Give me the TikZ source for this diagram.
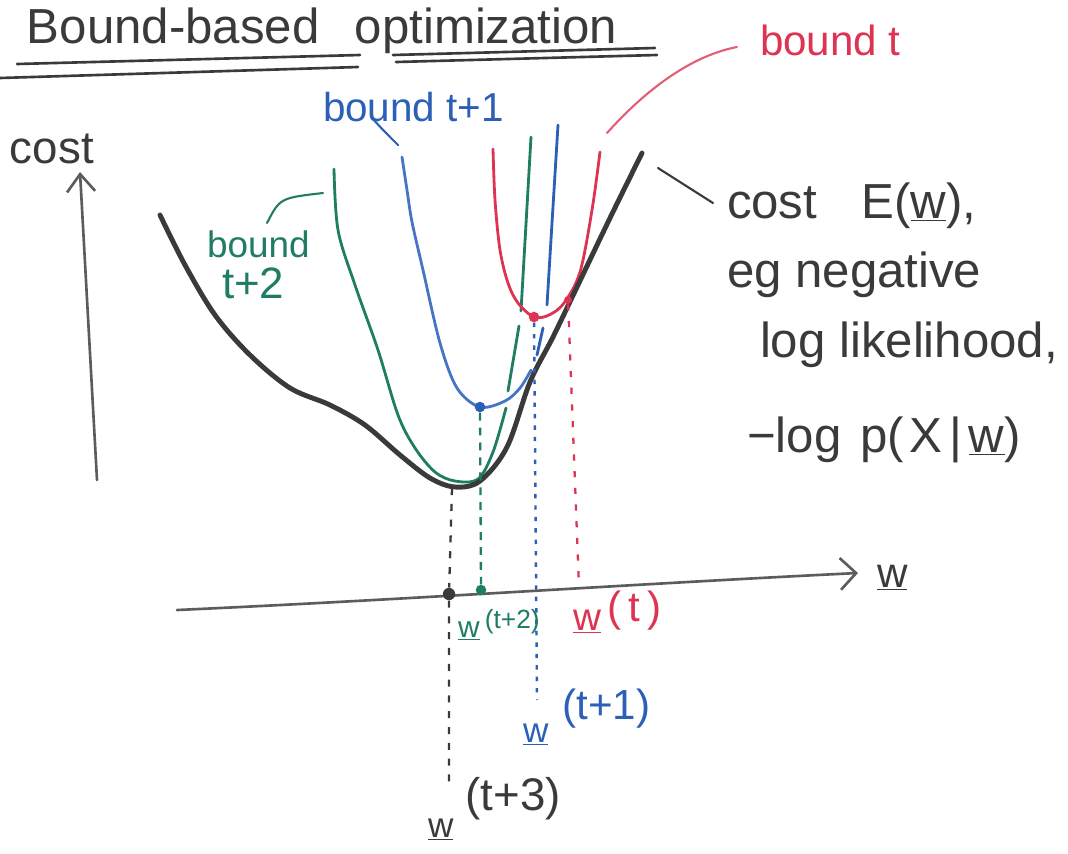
\documentclass[tikz,border=0pt]{standalone}
\usepackage{fontspec}
\setmainfont{Liberation Sans}
\usetikzlibrary{arrows.meta}
\definecolor{penblack}{HTML}{3A3A3A}
\definecolor{axisgray}{HTML}{5C5C5C}
\definecolor{pengreen}{HTML}{1F7D64}
\definecolor{penblue}{HTML}{2C5FB6}
\definecolor{lightblue}{HTML}{4675C4}
\definecolor{penred}{HTML}{DC3452}
\newcommand{\myfs}[1]{\fontsize{#1}{#1}\selectfont}
\begin{document}
\begin{tikzpicture}[x=0.02cm,y=-0.02cm,
  costcurve/.style={penblack, line width=2.8pt, line cap=round, line join=round},
  boundcurve/.style={line width=1.6pt, line cap=round, line join=round},
  axisline/.style={axisgray, line width=1.5pt, line cap=round},
  leader/.style={line width=1.2pt, line cap=round},
  lbl/.style={inner sep=0pt, outer sep=0pt, anchor=base west},
  dotmark/.style={circle, fill, inner sep=0pt, minimum size=#1},
  dotmark/.default=6pt,
  uline/.style={penblack, line width=1.5pt, line cap=round},
]
\useasboundingbox (0,0) rectangle (1068,853);

% title
\node[lbl, penblack, font=\myfs{28pt}] (title) at (27,43) {Bound-based\hspace{20pt}optimization};
\draw[uline] (17,64) -- (360,55);
\draw[uline] (0,78) -- (358,67);
\draw[uline] (393,55) -- (655,48);
\draw[uline] (396,62) -- (657,55);

% axes
\coordinate (yb) at (97,480);
\coordinate (yt) at (80,172);
\draw[axisline, -{Straight Barb[length=10pt,width=16pt]}] (yb) -- (yt);
\node[lbl, penblack, font=\myfs{26pt}] (costlbl) at (10,163) {cost};

\coordinate (xa) at (177,610);
\coordinate (xb) at (858,573);
\draw[axisline, -{Straight Barb[length=9pt,width=18pt]}] (xa) .. controls (400,600) and (650,583) .. (xb);
\node[lbl, penblack, font=\myfs{24pt}] (wlbl) at (877,587) {\underline{w}};

% bound t+2 (green)
\draw[pengreen, boundcurve] plot[smooth, tension=0.55] coordinates {(334,169) (338,230) (355,285) (378,350) (398,415) (415,448) (435,472) (455,481) (478,479) (493,452) (506,408)};
\draw[pengreen, boundcurve] (508,391) -- (519,326);
\draw[pengreen, boundcurve] (521,311) -- (531,137);

% bound t+1 (blue)
\draw[lightblue, boundcurve] plot[smooth, tension=0.55] coordinates {(402,157) (407,190) (412,222) (423,270) (440,343) (457,388) (480,407) (505,401) (520,388) (531,370)};
\draw[penblue, boundcurve] (537,355) -- (543,328);
\draw[penblue, boundcurve] (547,305) -- (558,125);

% bound t (red)
\draw[penred, boundcurve] plot[smooth, tension=0.55] coordinates {(493,149) (495,200) (500,250) (508,283) (518,303) (534,317) (549,315) (564,303) (580,272) (592,210) (600,152)};

% cost curve
\draw[costcurve] plot[smooth, tension=0.55] coordinates {(160,215) (185,265) (215,315) (250,355) (290,388) (330,405) (365,425) (400,455) (430,478) (455,487) (480,481) (507,447) (530,382) (553,337) (577,287) (610,218) (642,153)};

% minima / touching points
\node[dotmark=6pt, penred] (redmin) at (534,317) {};
\node[dotmark=4.5pt, penred] (redtouch) at (568,300) {};
\node[dotmark=6pt, penblue] (bluemin) at (480,407) {};
\coordinate (greenmin) at (452,488);
\node[dotmark=6pt, pengreen] (greenw) at (481,590) {};
\node[dotmark=7pt, penblack] (blackw) at (449,594) {};
\coordinate (w1end) at (537,700);
\coordinate (w0axis) at (579,587);
\coordinate (w3end) at (449,790);

% drop lines
\draw[pengreen, line width=1.3pt, dash pattern=on 4.5pt off 4pt] (bluemin) -- (greenw);
\draw[penblack, line width=1.3pt, dash pattern=on 4pt off 5pt] (greenmin) -- (blackw) -- (w3end);
\draw[penblue, line width=1.4pt, dash pattern=on 2.5pt off 4pt] (redmin) -- (w1end);
\draw[penred, line width=1.3pt, dash pattern=on 3.5pt off 6pt] (redtouch) -- (w0axis);

% axis labels
\node[lbl, pengreen] (w2lbl) at (458,637) {\myfs{17pt}\underline{w}\hspace{3pt}\raisebox{5pt}{\myfs{15pt}(t+2)}};
\node[lbl, penred] (w0lbl) at (573,630) {\myfs{22pt}\underline{w}\hspace{4pt}\raisebox{5pt}{\myfs{24pt}(\,t\,)}};
\node[lbl, penblue] (w1lbl) at (523,742) {\myfs{20pt}\underline{w}\hspace{8pt}\raisebox{13pt}{\myfs{24pt}(t+1)}};
\node[lbl, penblack] (w3lbl) at (428,837) {\myfs{20pt}\underline{w}\hspace{7pt}\raisebox{15pt}{\myfs{26pt}(t+3)}};

% bound labels and leaders
\node[lbl, penred, font=\myfs{24pt}] (boundt) at (760,55) {bound t};
\coordinate (redA) at (607,133);
\coordinate (redB) at (737,47);
\draw[leader, penred!80] (redA) .. controls (650,85) and (695,55) .. (redB);

\node[lbl, penblue, font=\myfs{23pt}] (boundt1) at (323,121) {bound t+1};
\coordinate (blueA) at (372,118);
\coordinate (blueB) at (398,145);
\draw[leader, penblue] (blueA) .. controls (383,130) .. (blueB);

\node[lbl, pengreen, font=\myfs{21pt}] (boundt2a) at (207,257) {bound};
\node[lbl, pengreen, font=\myfs{25pt}] (boundt2b) at (222,298) {t+2};
\coordinate (greenA) at (267,223);
\coordinate (greenB) at (323,193);
\draw[leader, pengreen] (greenA) .. controls (280,198) .. (greenB);

% cost description
\node[lbl, penblack, font=\myfs{28pt}] (desc1) at (727,218) {cost\hspace{0.9em}E(\underline{w}),};
\node[lbl, penblack, font=\myfs{28pt}] (desc2) at (727,287) {eg negative};
\node[lbl, penblack, font=\myfs{28pt}] (desc3) at (760,357) {log likelihood,};
\node[lbl, penblack, font=\myfs{28pt}] (desc4) at (747,452) {−log\hspace{3pt} p(\hspace{3pt}X\hspace{4pt}|\hspace{4pt}\underline{w})};
\coordinate (blkA) at (658,168);
\coordinate (blkB) at (713,203);
\draw[leader, penblack] (blkA) .. controls (685,186) .. (blkB);
\end{tikzpicture}
\end{document}
